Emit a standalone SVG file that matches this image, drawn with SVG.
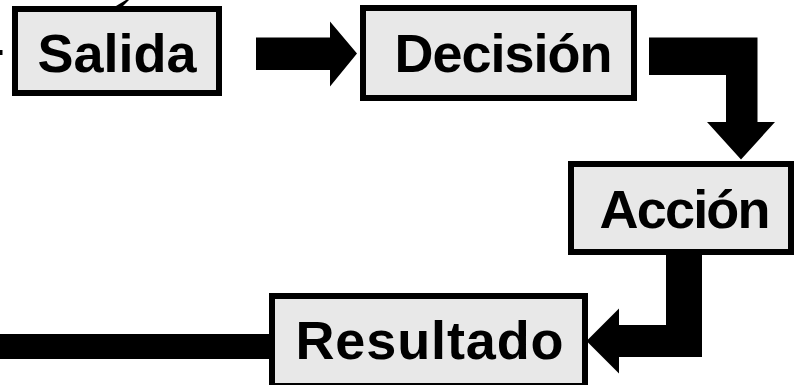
<svg xmlns="http://www.w3.org/2000/svg" width="794" height="385" viewBox="0 0 794 385">
  <style>
    .box { fill: #e8e8e8; stroke: #000; stroke-width: 6; }
    .label { font-family: "Liberation Sans", Arial, Helvetica, sans-serif; font-weight: bold; font-size: 54px; fill: #000; text-anchor: middle; }
    .flow { fill: #000; stroke: none; }
  </style>
  <rect width="794" height="385" fill="#fff"/>

  <!-- connectors: block arrows -->
  <g id="connectors">
    <!-- partial arrows entering from outside the frame -->
    <rect class="flow" x="0" y="50" width="2.5" height="5"/>
    <polygon class="flow" points="116,6 126,0 129,0 123,6"/>
    <!-- Salida to Decisión -->
    <polygon class="flow" points="256,37.5 330,37.5 330,21.5 357,53.5 330,86.5 330,70 256,70"/>
    <!-- Decisión to Acción -->
    <polygon class="flow" points="649,37.5 757.5,37.5 757.5,122 775,122 741,159.5 707,122 726,122 726,75 649,75"/>
    <!-- Acción to Resultado -->
    <polygon class="flow" points="666,254 702,254 702,357 619,357 619,373.5 586.5,341 619,308.5 619,325 666,325"/>
    <!-- outgoing line from Resultado -->
    <rect class="flow" x="0" y="334" width="272" height="25"/>
  </g>

  <g id="node-salida">
    <rect class="box" x="15" y="9" width="204" height="84"/>
    <text class="label" x="117" y="72">Salida</text>
  </g>

  <g id="node-decision">
    <rect class="box" x="363" y="8" width="271" height="90"/>
    <text class="label" x="503.5" y="72" textLength="218" lengthAdjust="spacing">Decisión</text>
  </g>

  <g id="node-accion">
    <rect class="box" x="571" y="164" width="220" height="88"/>
    <text class="label" x="685" y="228" textLength="171" lengthAdjust="spacing">Acción</text>
  </g>

  <g id="node-resultado">
    <rect class="box" x="272" y="296" width="313" height="90"/>
    <text class="label" x="429.5" y="359" textLength="268" lengthAdjust="spacing">Resultado</text>
  </g>
</svg>
